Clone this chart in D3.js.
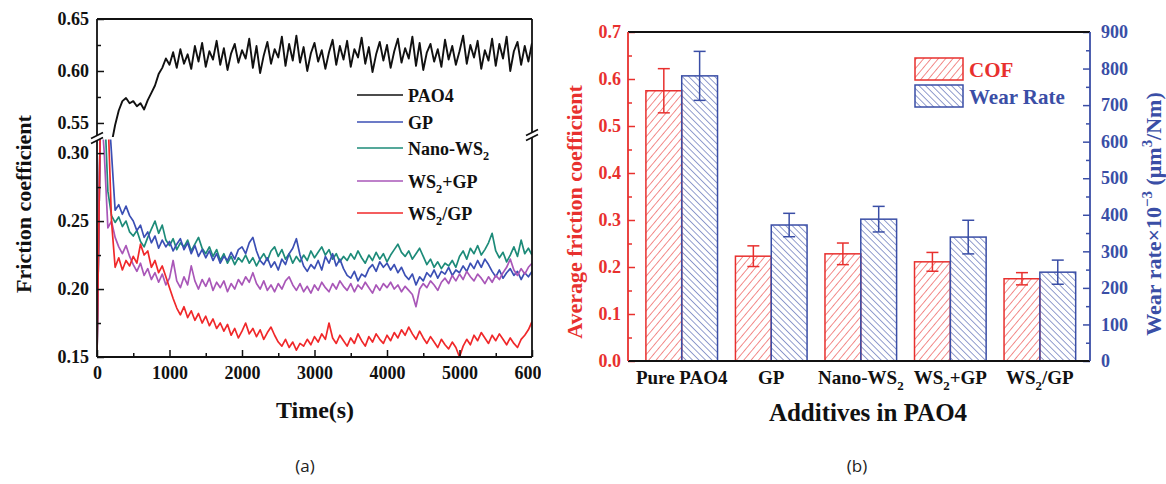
<!DOCTYPE html>
<html><head><meta charset="utf-8">
<script src="https://cdn.jsdelivr.net/npm/d3@7"></script>
<style>html,body{margin:0;padding:0;background:#fff;}svg{display:block;}</style>
</head><body>
<svg id="chart" width="1166" height="484"></svg>
<script>
// ---------------- DATA: panel (a) friction vs time (sampled every 50 s) ----------------
const timeStep = 50;
const timeMax = 6000;
const seriesNames = ["PAO4", "GP", "Nano-WS_2", "WS_2+GP", "WS_2/GP"];
const pao4 = [
  null,null,null,null,0.530,0.548,0.562,0.571,0.574,0.569,
  0.571,0.566,0.569,0.563,0.572,0.579,0.586,0.597,0.603,0.612,
  0.606,0.618,0.603,0.621,0.607,0.616,0.602,0.624,0.609,0.627,
  0.604,0.619,0.611,0.629,0.606,0.622,0.601,0.617,0.626,0.608,
  0.620,0.612,0.631,0.603,0.624,0.598,0.615,0.628,0.607,0.621,
  0.613,0.633,0.605,0.626,0.610,0.634,0.608,0.623,0.600,0.617,
  0.627,0.609,0.620,0.602,0.618,0.630,0.606,0.624,0.611,0.629,
  0.604,0.621,0.613,0.632,0.607,0.623,0.599,0.616,0.628,0.610,
  0.625,0.603,0.619,0.631,0.608,0.622,0.612,0.633,0.605,0.627,
  0.601,0.618,0.626,0.609,0.621,0.604,0.630,0.611,0.624,0.606,
  0.619,0.634,0.607,0.625,0.613,0.629,0.602,0.620,0.610,0.631,
  0.605,0.626,0.612,0.633,0.600,0.619,0.628,0.606,0.624,0.609,
  0.627];
const gp = [
  0.150,0.340,0.340,0.340,0.300,0.258,0.262,0.255,0.261,0.254,
  0.250,0.243,0.247,0.238,0.242,0.234,0.239,0.230,0.236,0.231,
  0.235,0.228,0.233,0.237,0.229,0.234,0.226,0.232,0.224,0.229,
  0.223,0.228,0.221,0.226,0.219,0.224,0.221,0.227,0.222,0.229,
  0.231,0.226,0.234,0.238,0.228,0.221,0.218,0.223,0.216,0.220,
  0.214,0.222,0.218,0.226,0.230,0.237,0.225,0.217,0.213,0.218,
  0.215,0.221,0.214,0.224,0.219,0.226,0.217,0.222,0.215,0.210,
  0.208,0.213,0.206,0.211,0.209,0.215,0.218,0.213,0.220,0.216,
  0.219,0.214,0.218,0.212,0.216,0.210,0.207,0.211,0.203,0.209,
  0.206,0.212,0.209,0.214,0.208,0.213,0.211,0.216,0.210,0.214,
  0.212,0.217,0.213,0.219,0.215,0.221,0.216,0.222,0.218,0.213,
  0.209,0.214,0.208,0.212,0.215,0.210,0.213,0.207,0.212,0.209,
  0.213];
const nanoWS2 = [
  0.150,0.340,0.340,0.272,0.254,0.249,0.253,0.246,0.250,0.242,
  0.239,0.243,0.235,0.231,0.238,0.244,0.250,0.241,0.247,0.236,
  0.232,0.237,0.229,0.234,0.231,0.236,0.228,0.233,0.238,0.230,
  0.226,0.231,0.224,0.229,0.221,0.226,0.219,0.224,0.218,0.223,
  0.220,0.225,0.219,0.223,0.217,0.222,0.226,0.221,0.228,0.231,
  0.224,0.229,0.222,0.226,0.219,0.224,0.220,0.225,0.221,0.228,
  0.223,0.227,0.231,0.225,0.229,0.222,0.226,0.220,0.224,0.221,
  0.226,0.222,0.228,0.223,0.219,0.225,0.221,0.227,0.222,0.226,
  0.220,0.225,0.229,0.233,0.227,0.224,0.228,0.222,0.226,0.230,
  0.224,0.218,0.222,0.216,0.220,0.215,0.219,0.217,0.221,0.216,
  0.224,0.228,0.222,0.230,0.226,0.232,0.225,0.229,0.234,0.241,
  0.228,0.223,0.227,0.220,0.225,0.231,0.224,0.236,0.226,0.230,
  0.225];
const ws2PlusGp = [
  0.150,0.340,0.300,0.245,0.250,0.238,0.231,0.226,0.232,0.224,
  0.218,0.213,0.219,0.210,0.215,0.207,0.212,0.205,0.211,0.203,
  0.208,0.221,0.206,0.201,0.209,0.203,0.217,0.206,0.200,0.207,
  0.202,0.208,0.199,0.205,0.201,0.206,0.198,0.204,0.200,0.207,
  0.203,0.209,0.205,0.212,0.204,0.200,0.206,0.199,0.203,0.198,
  0.204,0.200,0.206,0.209,0.203,0.199,0.204,0.198,0.202,0.197,
  0.203,0.199,0.205,0.201,0.198,0.204,0.200,0.206,0.202,0.199,
  0.204,0.198,0.203,0.200,0.205,0.201,0.197,0.203,0.199,0.204,
  0.201,0.205,0.200,0.203,0.198,0.202,0.199,0.196,0.187,0.200,
  0.204,0.201,0.206,0.203,0.199,0.205,0.208,0.204,0.210,0.206,
  0.211,0.207,0.213,0.209,0.206,0.211,0.208,0.204,0.209,0.205,
  0.210,0.207,0.212,0.216,0.222,0.214,0.210,0.215,0.211,0.216,
  0.219];
const ws2SlashGp = [
  0.150,0.340,0.340,0.330,0.250,0.216,0.223,0.214,0.221,0.217,
  0.224,0.219,0.233,0.225,0.228,0.216,0.221,0.212,0.217,0.209,
  0.201,0.193,0.186,0.181,0.187,0.179,0.184,0.177,0.182,0.175,
  0.180,0.173,0.178,0.171,0.175,0.169,0.174,0.166,0.171,0.164,
  0.169,0.175,0.167,0.171,0.165,0.170,0.163,0.168,0.172,0.166,
  0.161,0.158,0.163,0.157,0.161,0.155,0.160,0.158,0.163,0.159,
  0.165,0.161,0.167,0.163,0.175,0.164,0.160,0.166,0.162,0.158,
  0.164,0.160,0.167,0.162,0.158,0.165,0.161,0.167,0.163,0.160,
  0.166,0.162,0.168,0.164,0.170,0.166,0.172,0.167,0.163,0.169,
  0.164,0.160,0.165,0.161,0.157,0.163,0.159,0.156,0.161,0.157,
  0.150,0.158,0.163,0.159,0.166,0.162,0.168,0.164,0.160,0.166,
  0.162,0.167,0.163,0.159,0.164,0.160,0.157,0.163,0.166,0.170,
  0.176];
const seriesColors = ["#111111", "#3b4fb4", "#1d8b79", "#a957b8", "#f0282a"];
const xTicksA = [0, 1000, 2000, 3000, 4000, 5000, 6000];
const xMinorA = [500, 1500, 2500, 3500, 4500, 5500];
const yTicksUpper = [0.55, 0.60, 0.65];
const yMinorUpper = [0.575, 0.625];
const yTicksLower = [0.15, 0.20, 0.25, 0.30];
const yMinorLower = [0.175, 0.225, 0.275];

// ---------------- DATA: panel (b) bars ----------------
const categories = ["Pure PAO4", "GP", "Nano-WS_2", "WS_2+GP", "WS_2/GP"];
const cofMean = [0.575, 0.223, 0.228, 0.211, 0.175];
const cofErr  = [0.047, 0.022, 0.023, 0.020, 0.013];
const wearMean = [780, 372, 388, 339, 243];
const wearErr  = [67, 32, 35, 46, 33];
const yTicksCof = [0.0, 0.1, 0.2, 0.3, 0.4, 0.5, 0.6, 0.7];
const yMinorCof = [0.05, 0.15, 0.25, 0.35, 0.45, 0.55, 0.65];
const yTicksWear = [0, 100, 200, 300, 400, 500, 600, 700, 800, 900];
const yMinorWear = [50, 150, 250, 350, 450, 550, 650, 750, 850];
const legendB = ["COF", "Wear Rate"];

// ---------------- helpers ----------------
const SERIF = "'Liberation Serif','Times New Roman',serif";
function rich(textSel, s, size) {
  const parts = s.split(/(_\{[^}]*\}|\^\{[^}]*\}|_.|\^.)/).filter(p => p);
  let shift = 0;
  parts.forEach(p => {
    let t = p, lvl = 0;
    if (p[0] === "_") { lvl = 1; t = p[1] === "{" ? p.slice(2, -1) : p.slice(1); }
    else if (p[0] === "^") { lvl = -1; t = p[1] === "{" ? p.slice(2, -1) : p.slice(1); }
    const target = lvl === 1 ? 0.32 * size : lvl === -1 ? -0.42 * size : 0;
    textSel.append("tspan").attr("dy", target - shift)
      .attr("font-size", lvl ? size * 0.68 : size).text(t);
    shift = target;
  });
  return textSel;
}
function styleAxis(g, color, size) {
  g.select(".domain").remove();
  g.selectAll("line").attr("stroke", color).attr("stroke-width", 1.5);
  g.selectAll("text").attr("fill", color).attr("font-family", SERIF)
    .attr("font-weight", "bold").attr("font-size", size);
}

const svg = d3.select("#chart");
const defs = svg.append("defs");

// ================= PANEL (a) =================
const A = { left: 97, right: 532, top: 19, bottom: 357, brkUp: 137, brkLo: 139.5 };
defs.append("clipPath").attr("id", "clipPanelA").append("rect")
  .attr("x", 0).attr("y", 0).attr("width", 541).attr("height", 484);
defs.append("clipPath").attr("id", "clipUp").append("rect")
  .attr("x", A.left).attr("y", A.top).attr("width", A.right - A.left).attr("height", A.brkUp - A.top);
defs.append("clipPath").attr("id", "clipLo").append("rect")
  .attr("x", A.left).attr("y", A.brkLo).attr("width", A.right - A.left).attr("height", A.bottom - A.brkLo);

const gA = svg.append("g").attr("clip-path", "url(#clipPanelA)");
const xA = d3.scaleLinear().domain([0, timeMax]).range([A.left, A.right]);
const yUp = d3.scaleLinear().domain([0.5365, 0.65]).range([A.brkUp, A.top]);
const yLo = d3.scaleLinear().domain([0.15, 0.31]).range([A.bottom, A.brkLo]);
const times = d3.range(0, timeMax + 1, timeStep);

const lineUp = d3.line().defined(d => d[1] != null).x(d => xA(d[0])).y(d => yUp(d[1]));
const lineLo = d3.line().defined(d => d[1] != null).x(d => xA(d[0])).y(d => yLo(d[1]));
const zip = arr => times.map((t, i) => [t, arr[i]]);

gA.append("path").datum(zip(pao4)).attr("clip-path", "url(#clipUp)")
  .attr("fill", "none").attr("stroke", seriesColors[0]).attr("stroke-width", 1.9)
  .attr("stroke-linejoin", "round").attr("d", lineUp);
const lowerSeries = [[nanoWS2, 2], [gp, 1], [ws2PlusGp, 3], [ws2SlashGp, 4]];
lowerSeries.forEach(([arr, ci]) => {
  gA.append("path").datum(zip(arr)).attr("clip-path", "url(#clipLo)")
    .attr("fill", "none").attr("stroke", seriesColors[ci]).attr("stroke-width", 1.7)
    .attr("stroke-linejoin", "round").attr("d", lineLo);
});

// axes (a)
const axA = gA.append("g");
axA.append("g").attr("transform", `translate(0,${A.bottom})`)
  .call(d3.axisBottom(xA).tickValues(xTicksA).tickSize(-7).tickPadding(9).tickFormat(d3.format("d")))
  .call(g => styleAxis(g, "#111", 18));
axA.append("g").attr("transform", `translate(0,${A.bottom})`)
  .call(d3.axisBottom(xA).tickValues(xMinorA).tickSize(-4).tickFormat(""))
  .call(g => styleAxis(g, "#111", 18));
axA.append("g").attr("transform", `translate(${A.left},0)`)
  .call(d3.axisLeft(yUp).tickValues(yTicksUpper).tickSize(-7).tickPadding(8).tickFormat(d3.format(".2f")))
  .call(g => styleAxis(g, "#111", 18));
axA.append("g").attr("transform", `translate(${A.left},0)`)
  .call(d3.axisLeft(yUp).tickValues(yMinorUpper).tickSize(-4).tickFormat(""))
  .call(g => styleAxis(g, "#111", 18));
axA.append("g").attr("transform", `translate(${A.left},0)`)
  .call(d3.axisLeft(yLo).tickValues(yTicksLower).tickSize(-7).tickPadding(8).tickFormat(d3.format(".2f")))
  .call(g => styleAxis(g, "#111", 18));
axA.append("g").attr("transform", `translate(${A.left},0)`)
  .call(d3.axisLeft(yLo).tickValues(yMinorLower).tickSize(-4).tickFormat(""))
  .call(g => styleAxis(g, "#111", 18));

// frame with break
const frame = gA.append("g").attr("stroke", "#111").attr("stroke-width", 1.8).attr("fill", "none");
frame.append("line").attr("x1", A.left).attr("x2", A.right).attr("y1", A.top).attr("y2", A.top);
frame.append("line").attr("x1", A.left).attr("x2", A.left).attr("y1", A.top).attr("y2", 135);
frame.append("line").attr("x1", A.left).attr("x2", A.left).attr("y1", 140).attr("y2", A.bottom);
frame.append("line").attr("x1", A.left).attr("x2", A.right).attr("y1", A.bottom).attr("y2", A.bottom);
frame.append("line").attr("x1", A.right).attr("x2", A.right).attr("y1", A.top).attr("y2", 132);
frame.append("line").attr("x1", A.right).attr("x2", A.right).attr("y1", 137).attr("y2", A.bottom);
[[A.left, 137.5], [A.right, 134.5]].forEach(([bx, by]) => {
  frame.append("line").attr("x1", bx - 6).attr("y1", by + 1).attr("x2", bx + 6).attr("y2", by - 5);
  frame.append("line").attr("x1", bx - 6).attr("y1", by + 6).attr("x2", bx + 6).attr("y2", by);
});

// legend (a)
const legAY = [95, 122, 148, 181, 213];
seriesNames.forEach((n, i) => {
  gA.append("line").attr("x1", 357).attr("x2", 403).attr("y1", legAY[i]).attr("y2", legAY[i])
    .attr("stroke", seriesColors[i]).attr("stroke-width", 1.4);
  rich(gA.append("text").attr("x", 408).attr("y", legAY[i] + 6.5)
    .attr("font-family", SERIF).attr("font-weight", "bold").attr("font-size", 18).attr("fill", "#111"), n, 18);
});

// titles (a)
gA.append("text").attr("transform", "translate(31,204) rotate(-90)").attr("text-anchor", "middle")
  .attr("font-family", SERIF).attr("font-weight", "bold").attr("font-size", 22).attr("fill", "#111")
  .text("Friction coefficient");
gA.append("text").attr("x", 315).attr("y", 418).attr("text-anchor", "middle")
  .attr("font-family", SERIF).attr("font-weight", "bold").attr("font-size", 24).attr("fill", "#111")
  .text("Time(s)");

// ================= PANEL (b) =================
const B = { left: 628, right: 1090, top: 32, bottom: 361 };
const RED = "#e8302e", BLUE = "#3a4ea6";
const xB = d3.scaleLinear().domain([-0.6, 4.56]).range([B.left, B.right]);
const yL = d3.scaleLinear().domain([0, 0.7]).range([B.bottom, B.top]);
const yR = d3.scaleLinear().domain([0, 900]).range([B.bottom, B.top]);
const barU = 0.4;

const pr = defs.append("pattern").attr("id", "hatchRed").attr("patternUnits", "userSpaceOnUse")
  .attr("width", 5.6).attr("height", 5.6).attr("patternTransform", "rotate(40)");
pr.append("line").attr("x1", 0).attr("y1", -1).attr("x2", 0).attr("y2", 7).attr("stroke", RED).attr("stroke-width", 1.1);
const pb = defs.append("pattern").attr("id", "hatchBlue").attr("patternUnits", "userSpaceOnUse")
  .attr("width", 4.6).attr("height", 4.6).attr("patternTransform", "rotate(-45)");
pb.append("line").attr("x1", 0).attr("y1", -1).attr("x2", 0).attr("y2", 6).attr("stroke", BLUE).attr("stroke-width", 1.1);

const gB = svg.append("g");
categories.forEach((c, i) => {
  gB.append("rect").attr("x", xB(i - barU)).attr("y", yL(cofMean[i]))
    .attr("width", xB(i) - xB(i - barU)).attr("height", yL(0) - yL(cofMean[i]))
    .attr("fill", "url(#hatchRed)").attr("stroke", RED).attr("stroke-width", 1.5);
  gB.append("rect").attr("x", xB(i)).attr("y", yR(wearMean[i]))
    .attr("width", xB(i + barU) - xB(i)).attr("height", yR(0) - yR(wearMean[i]))
    .attr("fill", "url(#hatchBlue)").attr("stroke", BLUE).attr("stroke-width", 1.5);
  const eb = (cx, y1, y2, col) => {
    gB.append("line").attr("x1", cx).attr("x2", cx).attr("y1", y1).attr("y2", y2).attr("stroke", col).attr("stroke-width", 1.5);
    [y1, y2].forEach(yy => gB.append("line").attr("x1", cx - 6).attr("x2", cx + 6).attr("y1", yy).attr("y2", yy)
      .attr("stroke", col).attr("stroke-width", 1.5));
  };
  eb(xB(i - barU / 2), yL(cofMean[i] + cofErr[i]), yL(cofMean[i] - cofErr[i]), RED);
  eb(xB(i + barU / 2), yR(wearMean[i] + wearErr[i]), yR(wearMean[i] - wearErr[i]), BLUE);
  rich(gB.append("text").attr("x", xB(i)).attr("y", 384).attr("text-anchor", "middle")
    .attr("font-family", SERIF).attr("font-weight", "bold").attr("font-size", 19).attr("fill", "#111"), c, 19);
});

gB.append("g").attr("transform", `translate(${B.left},0)`)
  .call(d3.axisLeft(yL).tickValues(yTicksCof).tickSize(-7).tickPadding(7).tickFormat(d3.format(".1f")))
  .call(g => styleAxis(g, RED, 18));
gB.append("g").attr("transform", `translate(${B.left},0)`)
  .call(d3.axisLeft(yL).tickValues(yMinorCof).tickSize(-4).tickFormat(""))
  .call(g => styleAxis(g, RED, 18));
gB.append("g").attr("transform", `translate(${B.right},0)`)
  .call(d3.axisRight(yR).tickValues(yTicksWear).tickSize(-7).tickPadding(11).tickFormat(d3.format("d")))
  .call(g => styleAxis(g, BLUE, 18));
gB.append("g").attr("transform", `translate(${B.right},0)`)
  .call(d3.axisRight(yR).tickValues(yMinorWear).tickSize(-4).tickFormat(""))
  .call(g => styleAxis(g, BLUE, 18));

gB.append("line").attr("x1", B.left).attr("x2", B.right).attr("y1", B.top).attr("y2", B.top).attr("stroke", "#111").attr("stroke-width", 1.8);
gB.append("line").attr("x1", B.left).attr("x2", B.right).attr("y1", B.bottom).attr("y2", B.bottom).attr("stroke", "#111").attr("stroke-width", 1.8);
gB.append("line").attr("x1", B.left).attr("x2", B.left).attr("y1", B.top).attr("y2", B.bottom).attr("stroke", RED).attr("stroke-width", 1.8);
gB.append("line").attr("x1", B.right).attr("x2", B.right).attr("y1", B.top).attr("y2", B.bottom).attr("stroke", BLUE).attr("stroke-width", 1.8);

// legend (b)
[[58, "url(#hatchRed)", RED], [85, "url(#hatchBlue)", BLUE]].forEach(([ly, f, col], i) => {
  gB.append("rect").attr("x", 915).attr("y", ly).attr("width", 48).attr("height", 22)
    .attr("fill", f).attr("stroke", col).attr("stroke-width", 1.5);
  gB.append("text").attr("x", 969).attr("y", ly + 19).attr("font-family", SERIF).attr("font-weight", "bold")
    .attr("font-size", 21).attr("fill", col).text(legendB[i]);
});

// titles (b)
gB.append("text").attr("transform", "translate(582,212) rotate(-90)").attr("text-anchor", "middle")
  .attr("font-family", SERIF).attr("font-weight", "bold").attr("font-size", 22).attr("fill", RED)
  .text("Average friction coefficient");
rich(gB.append("text").attr("transform", "translate(1161,214) rotate(-90)").attr("text-anchor", "middle")
  .attr("font-family", SERIF).attr("font-weight", "bold").attr("font-size", 22).attr("fill", BLUE),
  "Wear rate×10^{−3} (μm^3/Nm)", 22);
gB.append("text").attr("x", 868).attr("y", 421).attr("text-anchor", "middle")
  .attr("font-family", SERIF).attr("font-weight", "bold").attr("font-size", 25).attr("fill", "#111")
  .text("Additives in PAO4");

// panel labels
svg.append("text").attr("x", 305).attr("y", 472).attr("text-anchor", "middle")
  .attr("font-family", "'Open Sans','Liberation Sans',sans-serif").attr("font-size", 17).attr("fill", "#222").text("(a)");
svg.append("text").attr("x", 857).attr("y", 472).attr("text-anchor", "middle")
  .attr("font-family", "'Open Sans','Liberation Sans',sans-serif").attr("font-size", 17).attr("fill", "#222").text("(b)");
</script>
</body></html>
